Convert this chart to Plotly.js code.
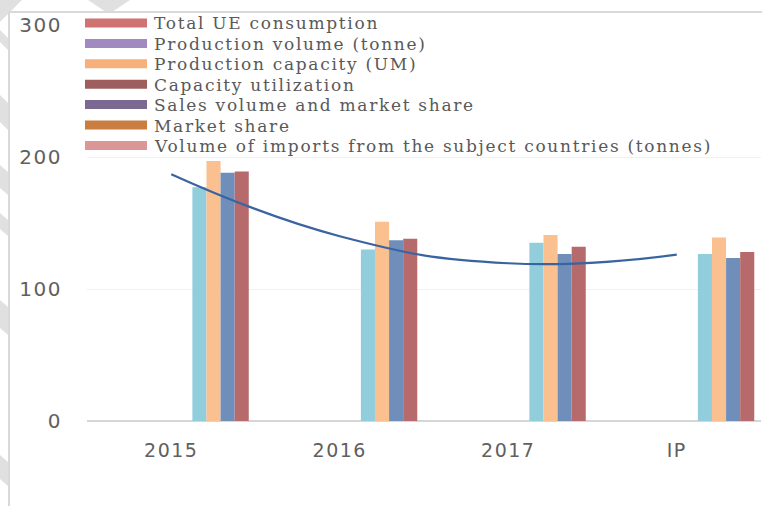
<!DOCTYPE html>
<html>
<head>
<meta charset="utf-8">
<script src="https://cdn.plot.ly/plotly-3.0.1.min.js"></script>
<style>
html, body { margin: 0; padding: 0; background: #fff; }
#chart { width: 762px; height: 506px; }
#chart .xtick text, #chart .ytick text { letter-spacing: 1.5px; }
text.annotation-text { letter-spacing: 1.7px; }
</style>
</head>
<body>
<div id="chart"></div>
<script>
// ---- data ----
const categories = ['2015', '2016', '2017', 'IP'];
const legendNames = [
  'Total UE consumption',
  'Production volume (tonne)',
  'Production capacity (UM)',
  'Capacity utilization',
  'Sales volume and market share',
  'Market share',
  'Volume of imports from the subject countries (tonnes)'
];
const legendColors = ['#CF7272', '#A08AC0', '#F8B07A', '#9E5E5E', '#7B6991', '#C97D40', '#DB9797'];
const legendValues = [0, 0, 0, 0];            // legend series carry no visible bars
const seriesLightBlue = [177, 130, 135, 126.5];
const seriesOrange    = [197, 151, 141, 139];
const seriesBlue      = [188, 137, 126.5, 123.5];
const seriesRed       = [189, 138, 132, 128];
const trendValues     = [187, 140, 119.5, 126];
const yTicks = [0, 100, 200, 300];

// ---- geometry helpers (pixel -> paper) ----
const W = 762, H = 506, ML = 87, MR = 1, MT = 25, MB = 85;
const PW = W - ML - MR, PH = H - MT - MB;
const px = v => (v - ML) / PW;
const py = v => (H - MB - v) / PH;

const traces = [];
legendNames.forEach((n, i) => {
  traces.push({type: 'bar', name: n, x: categories, y: legendValues,
    marker: {color: legendColors[i], line: {width: 0}}, showlegend: false, hoverinfo: 'skip'});
});
const visible = [
  ['light blue', seriesLightBlue, '#92CDDC'],
  ['orange', seriesOrange, '#FAC090'],
  ['blue', seriesBlue, '#6F8FBA'],
  ['red', seriesRed, '#B66A6C']
];
visible.forEach(v => {
  traces.push({type: 'bar', name: v[0], x: categories, y: v[1],
    marker: {color: v[2], line: {width: 0}}, showlegend: false});
});
traces.push({type: 'scatter', mode: 'lines', x: categories, y: trendValues,
  line: {color: '#3A64A0', width: 2.2, shape: 'spline', smoothing: 1.3}, showlegend: false});

const shapes = [];
// watermark stripes outside the chart frame
const stripes = [
  [[0,0],[22,0],[0,22]],
  [[88,0],[130,0],[112,12],[106,12]],
  [[0,30],[8,38],[8,50],[0,42]],
  [[0,95],[8,103],[8,130],[0,122]],
  [[0,165],[8,172],[8,195],[0,188]],
  [[0,213],[8,220],[8,236],[0,229]],
  [[0,300],[8,307],[8,335],[0,328]],
  [[0,455],[8,462],[8,486],[0,479]]
];
stripes.forEach(pts => {
  const d = 'M' + pts.map(p => px(p[0]) + ',' + py(p[1])).join(' L') + ' Z';
  shapes.push({type: 'path', xref: 'paper', yref: 'paper', path: d,
    fillcolor: '#E0E0E0', line: {width: 0}, layer: 'below'});
});
// frame lines
shapes.push({type: 'line', xref: 'paper', yref: 'paper', x0: px(9), x1: px(762), y0: py(12), y1: py(12),
  line: {color: '#D9D9D9', width: 2}, layer: 'below'});
shapes.push({type: 'line', xref: 'paper', yref: 'paper', x0: px(9), x1: px(9), y0: py(12), y1: py(506),
  line: {color: '#D9D9D9', width: 2}, layer: 'below'});

// custom legend
const annotations = [];
const rowY0 = 23, rowStep = 20.4;
legendNames.forEach((n, i) => {
  const yc = rowY0 + i * rowStep;
  shapes.push({type: 'rect', xref: 'paper', yref: 'paper',
    x0: px(85), x1: px(147), y0: py(yc - 4.5), y1: py(yc + 4.5),
    fillcolor: legendColors[i], line: {width: 0}, layer: 'above'});
  annotations.push({xref: 'paper', yref: 'paper', x: px(152), y: py(yc + 0.5),
    xanchor: 'left', yanchor: 'middle', align: 'left', showarrow: false, text: n,
    font: {family: 'DejaVu Serif', size: 17, color: '#595959'}});
});

const layout = {
  width: W, height: H,
  margin: {l: ML, r: MR, t: MT, b: MB, pad: 0},
  paper_bgcolor: '#FFFFFF',
  plot_bgcolor: 'rgba(0,0,0,0)',
  barmode: 'group', bargap: 0.08, bargroupgap: 0,
  showlegend: false,
  xaxis: {type: 'category', categoryarray: categories, showgrid: false, showline: false, zeroline: false,
    ticks: 'outside', ticklen: 12, tickcolor: 'rgba(0,0,0,0)',
    tickfont: {family: 'DejaVu Sans', size: 19, color: '#606060'}},
  yaxis: {range: [0, 300], tickvals: yTicks, ticktext: yTicks.map(String),
    showgrid: true, gridcolor: '#F1F1F1', gridwidth: 1,
    zeroline: true, zerolinecolor: '#D6D6D6', zerolinewidth: 2.5, showline: false,
    ticks: 'outside', ticklen: 20, tickcolor: 'rgba(0,0,0,0)',
    tickfont: {family: 'DejaVu Sans', size: 20, color: '#606060'}},
  shapes: shapes,
  annotations: annotations
};

Plotly.newPlot('chart', traces, layout, {staticPlot: true, displayModeBar: false});
</script>
</body>
</html>
